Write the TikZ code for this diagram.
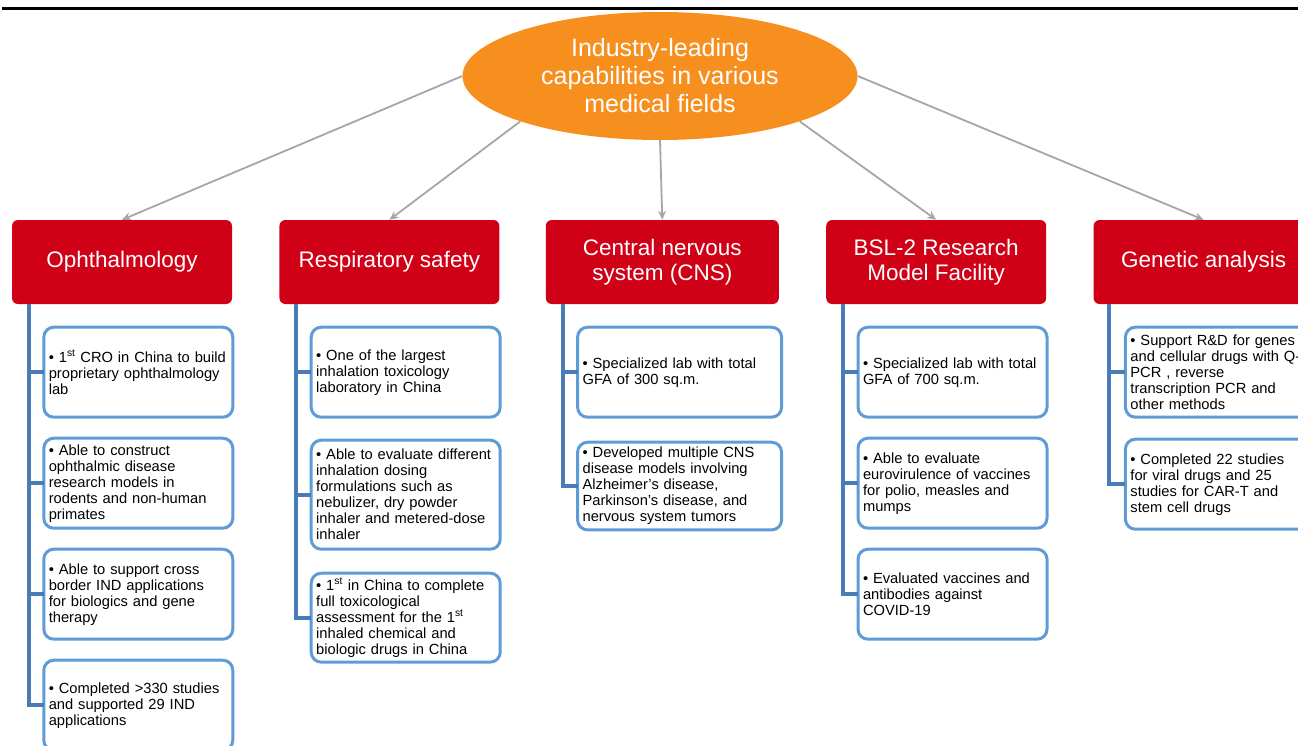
\documentclass[tikz,border=0pt]{standalone}
\usepackage{fontspec}
\setmainfont{Liberation Sans}
\usepackage{xcolor}
\usepackage{tikz}
\usetikzlibrary{arrows.meta, positioning, shapes.geometric}

\definecolor{capred}{RGB}{208,0,22}
\definecolor{caporange}{RGB}{247,143,30}
\definecolor{spineblue}{RGB}{72,124,182}
\definecolor{itemblue}{RGB}{95,155,213}
\definecolor{arrowgray}{RGB}{166,166,166}

\begin{document}
\begin{tikzpicture}[
  x=1pt, y=1pt,
  node distance=21pt and 47pt,
  every node/.style={font=\fontsize{14.7}{16}\selectfont},
  core/.style={ellipse, fill=caporange, text=white, minimum width=395pt,
               minimum height=128pt, inner sep=0pt, align=center,
               font=\fontsize{25}{28}\selectfont},
  head/.style={rectangle, fill=capred, rounded corners=6pt, text=white,
               minimum width=220pt, minimum height=84pt, align=center,
               font=\fontsize{22.5}{25}\selectfont},
  item/.style={draw=itemblue, line width=3pt, fill=white, rounded corners=10pt,
               text width=179pt, inner xsep=5pt, inner ysep=5pt, outer sep=0pt,
               minimum height=90pt, align=left},
  arrow/.style={-{Stealth[length=9pt, width=8pt]}, draw=arrowgray, line width=1.8pt},
  spine/.style={draw=spineblue, line width=4pt},
]
\useasboundingbox (0,0) rectangle (1298,-745);
\draw[line width=3.5pt] (2,-8.5) -- (1298,-8.5);

\node[core] (core) at (660,-76) {Industry-leading\\capabilities in various\\medical fields};

\node[head] (oph) at (122,-262) {Ophthalmology};
\node[head, right=of oph]  (resp) {Respiratory safety};
\node[head, right=46pt of resp, minimum width=233pt] (cns) {Central nervous\\system (CNS)};
\node[head, right=of cns]  (bsl)  {BSL-2 Research\\Model Facility};
\node[head, right=of bsl]  (gen)  {Genetic analysis};

% ophthalmology
\node[item, below=23pt of oph.south west, anchor=north west, xshift=32pt] (oph1)
  {• 1\textsuperscript{st} CRO in China to build\\proprietary ophthalmology\\lab};
\node[item, below=of oph1] (oph2)
  {• Able to construct\\ophthalmic disease\\research models in\\rodents and non-human\\primates};
\node[item, below=of oph2] (oph3)
  {• Able to support cross\\border IND applications\\for biologics and gene\\therapy};
\node[item, below=of oph3] (oph4)
  {• Completed >330 studies\\and supported 29 IND\\applications};

% respiratory
\node[item, below=23pt of resp.south west, anchor=north west, xshift=32pt] (resp1)
  {• One of the largest\\inhalation toxicology\\laboratory in China};
\node[item, below=23pt of resp1, minimum height=109pt] (resp2)
  {• Able to evaluate different\\inhalation dosing\\formulations such as\\nebulizer, dry powder\\inhaler and metered-dose\\inhaler};
\node[item, below=24pt of resp2, minimum height=88pt] (resp3)
  {• 1\textsuperscript{st} in China to complete\\full toxicological\\assessment for the 1\textsuperscript{st}\\inhaled chemical and\\biologic drugs in China};

% cns
\node[item, text width=194pt, below=23pt of cns.south west, anchor=north west, xshift=32pt] (cns1)
  {• Specialized lab with total\\GFA of 300 sq.m.};
\node[item, text width=194pt, below=25pt of cns1, minimum height=86pt] (cns2)
  {• Developed multiple CNS\\disease models involving\\Alzheimer’s disease,\\Parkinson’s disease, and\\nervous system tumors};

% bsl-2
\node[item, below=23pt of bsl.south west, anchor=north west, xshift=32pt] (bsl1)
  {• Specialized lab with total\\GFA of 700 sq.m.};
\node[item, below=of bsl1] (bsl2)
  {• Able to evaluate\\eurovirulence of vaccines\\for polio, measles and\\mumps};
\node[item, below=of bsl2] (bsl3)
  {• Evaluated vaccines and\\antibodies against\\COVID-19};

% genetic
\node[item, below=23pt of gen.south west, anchor=north west, xshift=32pt] (gen1)
  {• Support R\&D for genes\\and cellular drugs with Q-\\PCR , reverse\\transcription PCR and\\other methods};
\node[item, below=22pt of gen1] (gen2)
  {• Completed 22 studies\\for viral drugs and 25\\studies for CAR-T and\\stem cell drugs};

\draw[arrow] (core.west)  -- (oph.north);
\draw[arrow] (core.198)   -- (resp.north);
\draw[arrow] (core.south) -- (cns.north);
\draw[arrow] (core.-18)   -- (bsl.north);
\draw[arrow] (core.east)  -- (gen.north);

\draw[spine] ([xshift=17pt]oph.south west) |- (oph1.west);
\draw[spine] ([xshift=17pt]oph.south west) |- (oph2.west);
\draw[spine] ([xshift=17pt]oph.south west) |- (oph3.west);
\draw[spine] ([xshift=17pt]oph.south west) |- (oph4.west);
\draw[spine] ([xshift=17pt]resp.south west) |- (resp1.west);
\draw[spine] ([xshift=17pt]resp.south west) |- (resp2.west);
\draw[spine] ([xshift=17pt]resp.south west) |- (resp3.west);
\draw[spine] ([xshift=17pt]cns.south west) |- (cns1.west);
\draw[spine] ([xshift=17pt]cns.south west) |- (cns2.west);
\draw[spine] ([xshift=17pt]bsl.south west) |- (bsl1.west);
\draw[spine] ([xshift=17pt]bsl.south west) |- (bsl2.west);
\draw[spine] ([xshift=17pt]bsl.south west) |- (bsl3.west);
\draw[spine] ([xshift=16pt]gen.south west) |- (gen1.west);
\draw[spine] ([xshift=16pt]gen.south west) |- (gen2.west);
\end{tikzpicture}
\end{document}
